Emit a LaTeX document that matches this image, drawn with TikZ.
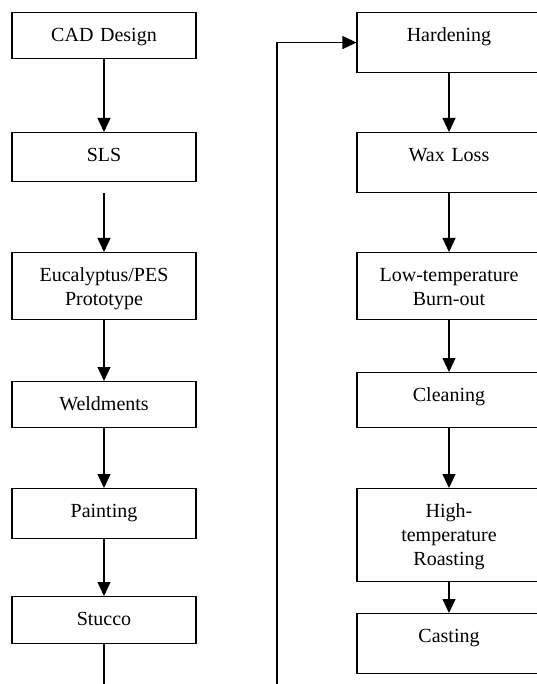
\documentclass[tikz,border=0pt]{standalone}
\usepackage{fontspec}
\setmainfont{Liberation Serif}
\usetikzlibrary{arrows.meta}
\tikzset{
  stepbox/.style={draw, line width=1.1pt, anchor=north, text width=184pt, align=center,
    inner xsep=0pt, inner ysep=0pt, text height=29pt, font=\fontsize{20}{24}\selectfont},
  flow/.style={line width=1.1pt, -{Triangle[length=14pt,width=13pt]}}
}
\begin{document}
\begin{tikzpicture}[x=1pt,y=-1pt]
      \useasboundingbox (0,0) rectangle (537,684);
      \clip (0,0) rectangle (537,684);
      \foreach \x/\y/\h/\i/\t in{104/12/17/cad/CAD Design, 104/132/20/sls/SLS,
                                 104/252/38/proto/{Eucalyptus/PES\\Prototype},
                                 104/381/17/weld/Weldments, 104/488/21/paint/Painting,
                                 104/596/18/stucco/Stucco,
                                 449/12/31/hard/Hardening, 449/132/31/wax/Wax Loss,
                                 449/252/38/low/{Low-temperature\\Burn-out},
                                 449/372/26/clean/Cleaning,
                                 449/488/64/high/{High-\\temperature\\Roasting},
                                 449/613/31/cast/Casting}{
        \node[stepbox, text depth=\h pt](N\i) at (\x,\y){\t};
      }
      \foreach \a/\b in {cad/sls, proto/weld, weld/paint, paint/stucco,
                         hard/wax, wax/low, low/clean, clean/high, high/cast}{
        \draw[flow](N\a.south)--(N\b.north);
      }
      \draw[flow]([yshift=-11pt]Nsls.south)--(Nproto.north);
      % loop back from Stucco to Hardening, runs below the page
      \coordinate (B1) at (104,700);
      \coordinate (B2) at (277,700);
      \draw[flow](Nstucco.south)--(B1)--(B2)|-(Nhard.west);
    \end{tikzpicture}
\end{document}
